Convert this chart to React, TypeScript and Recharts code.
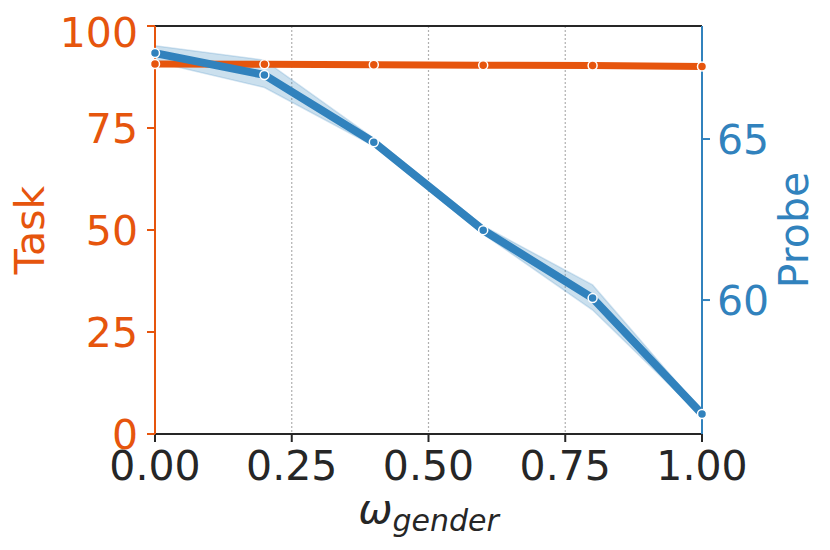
import { ComposedChart, Line, Area, XAxis, YAxis, CartesianGrid, ReferenceLine } from 'recharts';

const ORANGE = '#e6550d';
const BLUE = '#3182bd';
const INK = '#262626';
const FONT = '"DejaVu Sans", sans-serif';

const OMEGA = [0, 0.2, 0.4, 0.6, 0.8, 1.0];
const TASK = [90.7, 90.6, 90.5, 90.4, 90.3, 90.1];
const TASK_LOW = [90.4, 90.1, 90.3, 90.2, 90.1, 89.9];
const TASK_HIGH = [91.0, 91.0, 90.7, 90.6, 90.5, 90.3];
const PROBE = [67.67, 66.99, 64.9, 62.17, 60.06, 56.46];
const PROBE_LOW = [67.4, 66.6, 64.78, 62.05, 59.69, 56.38];
const PROBE_HIGH = [67.9, 67.45, 65.02, 62.3, 60.47, 56.54];

const X_TICKS = [0, 0.25, 0.5, 0.75, 1];
const TASK_TICKS = [0, 25, 50, 75, 100];
const PROBE_TICKS = [60, 65];

const data = OMEGA.map((x, i) => ({
  x,
  task: TASK[i],
  taskBand: [TASK_LOW[i], TASK_HIGH[i]],
  probe: PROBE[i],
  probeBand: [PROBE_LOW[i], PROBE_HIGH[i]],
}));

const XLabel = (props: any) => {
  const vb = props.viewBox;
  return (
    <text x={vb.x + vb.width / 2} y={vb.y + 89} textAnchor="middle" fill={INK} fontFamily={FONT} fontStyle="italic">
      <tspan fontSize={41}>ω</tspan>
      <tspan fontSize={30} dy={8}>gender</tspan>
    </text>
  );
};

const SideLabel = (text: string, color: string, dx: number) => (props: any) => {
  const vb = props.viewBox;
  const cx = vb.x + dx;
  const cy = vb.y + vb.height / 2;
  return (
    <text x={cx} y={cy} transform={`rotate(-90 ${cx} ${cy})`} textAnchor="middle" dominantBaseline="central" fill={color} fontSize={41} fontFamily={FONT}>
      {text}
    </text>
  );
};

export default function App() {
  return (
    <div style={{ width: 814, height: 534, fontFamily: FONT }}>
      <ComposedChart width={814} height={534} data={data} margin={{ top: 18, right: 0, bottom: 0, left: 0 }}>
        <CartesianGrid horizontal={false} strokeDasharray="2 2" stroke="#b0b0b0" strokeWidth={1.2} />
        <XAxis
          dataKey="x"
          type="number"
          domain={[0, 1]}
          ticks={X_TICKS}
          tickFormatter={(v: number) => v.toFixed(2)}
          height={108}
          tickSize={8}
          tickMargin={9}
          stroke={INK}
          axisLine={{ stroke: INK, strokeWidth: 2 }}
          tickLine={{ stroke: INK, strokeWidth: 2 }}
          tick={{ fill: INK, fontSize: 41, fontFamily: FONT }}
          label={{ content: XLabel }}
        />
        <YAxis
          yAxisId="left"
          domain={[0, 100]}
          ticks={TASK_TICKS}
          width={147}
          tickSize={8}
          tickMargin={9}
          stroke={ORANGE}
          axisLine={{ stroke: ORANGE, strokeWidth: 2 }}
          tickLine={{ stroke: ORANGE, strokeWidth: 2 }}
          tick={{ fill: ORANGE, fontSize: 41, fontFamily: FONT }}
          label={{ content: SideLabel('Task', ORANGE, 22) }}
        />
        <YAxis
          yAxisId="right"
          orientation="right"
          domain={[55.84, 68.51]}
          allowDataOverflow
          ticks={PROBE_TICKS}
          width={120}
          tickSize={8}
          tickMargin={7}
          stroke={BLUE}
          axisLine={{ stroke: BLUE, strokeWidth: 2 }}
          tickLine={{ stroke: BLUE, strokeWidth: 2 }}
          tick={{ fill: BLUE, fontSize: 41, fontFamily: FONT }}
          label={{ content: SideLabel('Probe', BLUE, 92) }}
        />
        <ReferenceLine yAxisId="left" y={100} stroke={INK} strokeWidth={2} />
        <Area yAxisId="left" dataKey="taskBand" type="linear" fill={ORANGE} fillOpacity={0.2} stroke="none" isAnimationActive={false} />
        <Line
          yAxisId="left"
          dataKey="task"
          type="linear"
          stroke={ORANGE}
          strokeWidth={7}
          dot={{ r: 4.5, fill: ORANGE, stroke: '#fff', strokeWidth: 1.5 }}
          isAnimationActive={false}
        />
        <Area yAxisId="right" dataKey="probeBand" type="linear" fill={BLUE} fillOpacity={0.25} stroke={BLUE} strokeOpacity={0.2} strokeWidth={1.5} isAnimationActive={false} />
        <Line
          yAxisId="right"
          dataKey="probe"
          type="linear"
          stroke={BLUE}
          strokeWidth={8}
          dot={{ r: 4.5, fill: BLUE, stroke: '#fff', strokeWidth: 1.5 }}
          isAnimationActive={false}
        />
      </ComposedChart>
    </div>
  );
}
